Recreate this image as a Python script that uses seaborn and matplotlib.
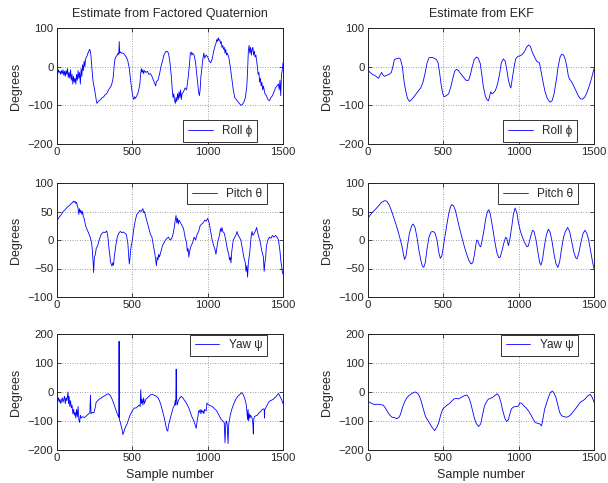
import matplotlib
matplotlib.use("Agg")
import matplotlib.pyplot as plt
import seaborn as sns
import pandas as pd

# ---------------- data ----------------
roll_q = [(0,-5),(5,-18),(10,-8),(15,-15),(20,-12),(25,-20),(30,-10),(35,-18),(40,-8),(45,-22),(50,-12),(55,-25),(60,-10),(65,-20),(70,-5),(75,-28),(80,-15),(85,-30),(90,-8),(95,-35),(100,-20),(105,-45),(110,-25),(115,-40),(120,-30),(125,-45),(130,-20),(135,-35),(140,-10),(145,-30),(150,-15),(155,-45),(160,-5),(165,-25),(170,5),(175,-10),(180,15),(185,0),(190,20),(195,25),(200,28),(205,35),(210,38),(215,45),(220,42),(225,30),(230,5),(235,-20),(240,-40),(250,-60),(260,-85),(265,-95),(270,-92),(280,-88),(290,-85),(300,-80),(310,-78),(320,-72),(330,-70),(340,-62),(350,-55),(360,-50),(370,-35),(375,-20),(380,5),(385,20),(390,25),(400,30),(405,35),(410,32),(413,65),(416,35),(420,38),(430,35),(440,35),(450,30),(460,25),(470,15),(480,-5),(490,-40),(500,-70),(505,-80),(510,-85),(515,-78),(520,-82),(530,-75),(540,-65),(550,-45),(555,-20),(560,-5),(565,-15),(570,-8),(575,-18),(580,-10),(590,-15),(600,-12),(610,-20),(620,-18),(630,-25),(640,-35),(650,-45),(655,-50),(660,-38),(670,-35),(680,-20),(690,0),(700,15),(710,30),(720,38),(730,40),(740,35),(750,10),(760,-30),(765,-60),(770,-80),(775,-70),(780,-85),(785,-95),(790,-80),(795,-90),(800,-70),(805,-85),(810,-65),(815,-80),(820,-60),(825,-85),(830,-70),(840,-65),(850,-55),(860,-60),(870,-30),(880,10),(885,35),(890,38),(895,30),(900,35),(905,32),(910,30),(920,10),(930,-30),(940,-65),(945,-75),(950,-60),(955,-25),(960,-10),(965,10),(970,25),(975,35),(980,22),(990,30),(1000,25),(1010,15),(1020,10),(1030,20),(1040,40),(1050,55),(1055,60),(1060,70),(1065,65),(1070,75),(1075,68),(1080,70),(1085,60),(1090,65),(1095,50),(1100,55),(1105,45),(1110,50),(1115,35),(1120,45),(1125,30),(1130,35),(1140,25),(1150,0),(1160,-30),(1170,-60),(1180,-80),(1190,-85),(1200,-90),(1210,-95),(1220,-100),(1230,-98),(1240,-92),(1250,-80),(1260,-50),(1265,-10),(1270,40),(1275,55),(1280,35),(1285,50),(1290,30),(1295,45),(1300,50),(1305,30),(1310,40),(1315,25),(1320,30),(1330,0),(1335,-20),(1340,-15),(1345,-40),(1350,-30),(1355,-50),(1360,-40),(1365,-60),(1370,-50),(1380,-70),(1390,-75),(1400,-85),(1410,-88),(1420,-80),(1430,-75),(1440,-65),(1450,-55),(1460,-50),(1470,-45),(1475,-60),(1480,-35),(1485,-75),(1490,-20),(1495,-10),(1500,10)]

pitch_q = [(0,35),(10,38),(20,42),(30,45),(40,50),(50,52),(60,55),(70,58),(80,60),(90,63),(100,65),(110,68),(115,66),(120,68),(125,64),(130,66),(135,60),(140,55),(145,45),(150,55),(155,48),(160,52),(165,45),(170,50),(175,40),(180,38),(190,25),(200,18),(210,12),(220,5),(230,-5),(235,-20),(240,-40),(243,-57),(248,-30),(255,-25),(260,-15),(270,-10),(280,0),(290,8),(300,12),(310,14),(320,13),(330,16),(335,10),(340,0),(345,-15),(350,-25),(355,-38),(360,-42),(365,-46),(370,-40),(375,-44),(380,-30),(390,-10),(400,5),(410,12),(420,15),(430,13),(440,14),(450,12),(460,10),(470,-5),(475,-25),(480,-42),(485,-30),(490,-15),(500,0),(510,20),(520,35),(530,45),(540,48),(550,52),(560,50),(570,55),(575,48),(580,50),(590,40),(600,30),(610,20),(620,10),(630,5),(640,-10),(650,-25),(655,-35),(660,-45),(665,-30),(670,-35),(675,-25),(680,-30),(690,-20),(700,-10),(710,-5),(720,0),(730,3),(740,5),(750,0),(760,2),(770,10),(780,25),(785,35),(790,43),(795,30),(800,38),(805,28),(810,35),(820,30),(830,25),(840,20),(850,5),(860,-5),(865,-20),(870,-15),(875,-30),(880,-20),(890,-10),(900,-5),(910,5),(920,0),(930,10),(940,15),(950,25),(960,28),(970,30),(980,35),(990,33),(1000,38),(1010,30),(1020,15),(1030,0),(1040,-10),(1050,-18),(1055,-25),(1060,-15),(1070,0),(1080,10),(1085,20),(1090,15),(1095,22),(1100,15),(1110,12),(1120,0),(1130,-15),(1140,-25),(1145,-35),(1150,-30),(1155,-40),(1160,-20),(1170,0),(1180,5),(1190,10),(1195,15),(1200,10),(1210,5),(1220,0),(1230,-15),(1240,-30),(1250,-40),(1255,-55),(1260,-45),(1265,-65),(1270,-40),(1280,-20),(1290,10),(1295,15),(1300,8),(1310,12),(1320,18),(1325,22),(1330,15),(1340,5),(1350,-5),(1360,-20),(1370,-30),(1375,-55),(1380,-40),(1385,-30),(1390,-10),(1400,0),(1410,5),(1420,3),(1430,8),(1440,5),(1450,8),(1460,5),(1470,0),(1480,-20),(1485,-35),(1490,-45),(1495,-55),(1500,-60)]

yaw_q = [(0,-15),(5,-30),(10,-20),(15,-35),(20,-25),(25,-40),(30,-30),(35,-20),(40,-35),(45,-25),(50,-15),(55,-40),(60,-20),(65,-30),(70,-10),(73,0),(76,-40),(80,-15),(85,-50),(90,-30),(95,-55),(100,-45),(105,-75),(110,-60),(115,-80),(120,-70),(125,-90),(130,-60),(135,-85),(140,-50),(145,-95),(150,-105),(155,-80),(160,-90),(170,-85),(180,-88),(190,-85),(200,-80),(210,-75),(218,-72),(222,-10),(226,-75),(235,-70),(245,-72),(255,-50),(260,-35),(270,-30),(280,-25),(290,-22),(300,-18),(310,-15),(320,-12),(330,-8),(340,-6),(350,-10),(360,-18),(370,-30),(380,-45),(390,-60),(400,-75),(410,-88),(412,175),(414,-95),(420,-105),(430,-125),(438,-147),(445,-135),(455,-120),(465,-110),(475,-95),(485,-80),(495,-70),(505,-60),(515,-55),(525,-55),(535,-50),(545,-45),(552,-50),(556,8),(560,-40),(565,-25),(570,-45),(575,-20),(580,-40),(590,-25),(600,-20),(610,-15),(620,-10),(630,-8),(640,-10),(650,-12),(660,-15),(670,-20),(680,-30),(690,-45),(700,-65),(710,-85),(720,-110),(728,-130),(735,-135),(740,-115),(750,-95),(760,-75),(770,-55),(780,-45),(785,-30),(788,-45),(791,79),(794,-25),(798,-45),(805,-30),(815,-20),(825,-15),(835,-20),(845,-28),(855,-35),(865,-45),(875,-55),(885,-70),(895,-85),(905,-95),(915,-110),(924,-125),(930,-100),(935,-85),(940,-65),(945,-70),(950,-60),(955,-75),(960,-62),(965,-70),(970,-65),(975,-75),(980,-60),(990,-65),(995,-38),(1000,-42),(1010,-45),(1020,-48),(1030,-50),(1040,-55),(1050,-60),(1060,-65),(1070,-75),(1080,-85),(1090,-95),(1100,-100),(1110,-105),(1115,-175),(1120,-110),(1125,-100),(1130,-115),(1135,-178),(1140,-110),(1145,-95),(1150,-80),(1160,-60),(1170,-45),(1180,-32),(1190,-22),(1200,-15),(1210,-10),(1220,-5),(1227,-2),(1235,-8),(1245,-20),(1255,-40),(1260,-65),(1265,-95),(1268,-60),(1272,-100),(1276,-75),(1280,-90),(1285,-80),(1290,-85),(1295,-90),(1300,-110),(1303,-145),(1306,-95),(1310,-85),(1320,-82),(1330,-80),(1340,-72),(1350,-68),(1360,-62),(1370,-58),(1375,-60),(1377,-90),(1379,-60),(1385,-55),(1395,-45),(1405,-35),(1415,-30),(1425,-28),(1435,-25),(1445,-20),(1455,-15),(1465,-8),(1470,-5),(1480,-15),(1490,-25),(1500,-40)]

roll_ekf = [(0,-10),(15,-15),(30,-20),(50,-24),(70,-30),(80,-22),(90,-15),(100,-22),(110,-25),(125,-22),(140,-20),(155,-15),(165,0),(175,18),(190,21),(205,22),(215,20),(228,0),(240,-40),(250,-62),(262,-82),(275,-90),(290,-85),(305,-78),(320,-70),(335,-62),(350,-55),(365,-40),(380,-15),(392,10),(405,23),(420,24),(440,22),(455,18),(465,10),(475,-15),(485,-45),(495,-68),(505,-78),(520,-75),(535,-70),(550,-52),(563,-30),(575,-12),(588,-7),(600,-10),(615,-18),(630,-25),(645,-33),(655,-36),(668,-35),(680,-20),(692,0),(705,18),(720,25),(732,22),(745,8),(755,-20),(765,-50),(778,-75),(790,-86),(800,-88),(808,-75),(815,-65),(823,-70),(832,-68),(845,-62),(860,-45),(873,-20),(885,10),(898,20),(910,15),(920,-5),(930,-30),(940,-48),(948,-55),(958,-30),(968,-5),(980,20),(995,27),(1010,28),(1025,32),(1040,40),(1052,50),(1065,56),(1078,52),(1090,38),(1105,25),(1120,14),(1138,10),(1150,-15),(1162,-40),(1175,-65),(1190,-82),(1208,-92),(1222,-88),(1235,-70),(1250,-35),(1262,0),(1275,25),(1285,32),(1298,30),(1310,18),(1320,0),(1330,-25),(1338,-32),(1350,-38),(1365,-50),(1380,-62),(1395,-75),(1410,-83),(1425,-84),(1440,-78),(1455,-65),(1470,-48),(1485,-28),(1500,-5)]

pitch_ekf = [(0,38),(15,44),(30,49),(50,54),(70,60),(90,66),(110,69),(125,68),(140,62),(155,52),(170,40),(185,28),(200,15),(212,3),(225,-10),(235,-25),(243,-34),(252,-28),(262,-10),(275,12),(290,25),(300,28),(312,22),(325,5),(338,-18),(350,-35),(360,-45),(370,-48),(380,-40),(392,-15),(405,5),(418,14),(432,15),(445,12),(458,0),(470,-22),(480,-32),(490,-28),(500,-12),(510,5),(522,25),(535,45),(545,56),(555,62),(568,60),(580,52),(595,35),(610,18),(625,3),(640,-12),(655,-25),(670,-36),(683,-42),(695,-40),(705,-28),(715,-10),(722,0),(730,-2),(740,-10),(748,-12),(758,0),(770,18),(782,38),(793,50),(802,53),(812,45),(825,25),(840,0),(855,-22),(868,-31),(878,-30),(890,-18),(902,-5),(914,5),(922,2),(932,-10),(942,2),(955,25),(965,45),(976,56),(988,48),(1000,28),(1012,15),(1025,5),(1040,-5),(1055,-12),(1065,-10),(1078,5),(1092,17),(1102,15),(1115,0),(1130,-25),(1140,-40),(1148,-44),(1158,-35),(1170,-12),(1183,8),(1197,19),(1208,14),(1220,0),(1235,-25),(1248,-42),(1260,-48),(1272,-38),(1285,-15),(1298,5),(1310,15),(1325,22),(1338,15),(1350,0),(1365,-20),(1378,-31),(1388,-33),(1400,-22),(1415,-2),(1428,12),(1440,17),(1452,12),(1465,0),(1478,-20),(1490,-38),(1500,-50)]

yaw_ekf = [(0,-33),(10,-35),(25,-40),(45,-43),(65,-42),(85,-44),(100,-45),(115,-55),(130,-68),(145,-80),(160,-87),(175,-88),(190,-92),(205,-88),(215,-78),(228,-55),(242,-35),(258,-20),(272,-12),(288,-6),(302,-2),(315,0),(330,-5),(342,-15),(355,-35),(368,-60),(382,-85),(400,-100),(420,-118),(442,-133),(458,-120),(470,-105),(482,-80),(495,-60),(510,-52),(525,-45),(540,-40),(555,-32),(570,-24),(585,-22),(600,-24),(615,-20),(630,-15),(645,-12),(655,-10),(668,-18),(680,-35),(692,-60),(705,-88),(718,-108),(734,-119),(748,-110),(760,-80),(772,-50),(785,-35),(798,-25),(812,-22),(828,-18),(842,-12),(858,-6),(870,-15),(882,-35),(895,-65),(908,-90),(920,-102),(932,-95),(942,-75),(952,-58),(965,-52),(980,-50),(995,-50),(1009,-37),(1022,-40),(1035,-48),(1050,-55),(1065,-65),(1080,-78),(1095,-92),(1110,-105),(1125,-108),(1140,-110),(1152,-117),(1162,-90),(1172,-60),(1185,-38),(1198,-18),(1210,-2),(1224,3),(1236,-5),(1248,-20),(1260,-45),(1272,-70),(1285,-82),(1300,-85),(1319,-87),(1335,-83),(1350,-76),(1365,-66),(1380,-56),(1395,-45),(1410,-35),(1425,-30),(1440,-25),(1455,-15),(1474,-8),(1488,-18),(1500,-35)]

titles = ["Estimate from Factored Quaternion", "Estimate from EKF"]
labels = ["Roll \u03d5", "Pitch \u03b8", "Yaw \u03c8"]
yticks = [[-200, -100, 0, 100], [-100, -50, 0, 50, 100], [-200, -100, 0, 100, 200]]
xticks = [0, 500, 1000, 1500]
series = [[roll_q, roll_ekf], [pitch_q, pitch_ekf], [yaw_q, yaw_ekf]]

# ---------------- style ----------------
sns.set_style("white")
plt.rcParams['font.family'] = ['Liberation Sans', 'DejaVu Sans']
plt.rcParams['axes.linewidth'] = 0.7

fig = plt.figure(figsize=(6.08, 4.83), dpi=100)
W, H = 608, 483
cols_px = [57, 368]
rows_px = [(28, 144), (183, 297), (334, 450)]
aw = 226

leg_pos = {
    (0, 0): ("lower right", (0.885, 0.02)),
    (0, 1): ("lower right", (0.925, 0.02)),
    (1, 0): ("upper right", (0.93, 1.0)),
    (1, 1): ("upper right", (0.93, 1.0)),
    (2, 0): ("upper right", (0.93, 0.995)),
    (2, 1): ("upper right", (0.93, 0.995)),
}

for r in range(3):
    top, bot = rows_px[r]
    for c in range(2):
        left = cols_px[c]
        ax = fig.add_axes([left / W, 1 - bot / H, aw / W, (bot - top) / H])
        pts = series[r][c]
        df = pd.DataFrame(pts, columns=["sample", "deg"])
        sns.lineplot(data=df, x="sample", y="deg", ax=ax, color="#0000ff",
                     lw=0.6, label=labels[r], sort=False, estimator=None)
        ax.set_xlim(0, 1500)
        ax.set_ylim(yticks[r][0], yticks[r][-1])
        ax.set_xticks(xticks)
        ax.set_yticks(yticks[r])
        ax.grid(True, linestyle=(0, (1, 2)), color="#808080", lw=0.6)
        ax.tick_params(direction="in", length=3, width=0.6, labelsize=8.2,
                       pad=2.5, top=True, right=True, bottom=True, left=True)
        for s in ax.spines.values():
            s.set_color("#222222")
        ax.set_ylabel("Degrees", fontsize=9, labelpad=4)
        if r == 2:
            ax.set_xlabel("Sample number", fontsize=9, labelpad=4)
        else:
            ax.set_xlabel("")
        if r == 0:
            ax.set_title(titles[c], fontsize=9, pad=8)
        loc, anchor = leg_pos[(r, c)]
        leg = ax.legend(loc=loc, bbox_to_anchor=anchor, fontsize=8.5,
                        handlelength=2.1, fancybox=False, framealpha=1,
                        edgecolor="#333333", borderpad=0.4, borderaxespad=0)
        leg.get_frame().set_linewidth(0.7)

fig.savefig("out.png", dpi=100)
